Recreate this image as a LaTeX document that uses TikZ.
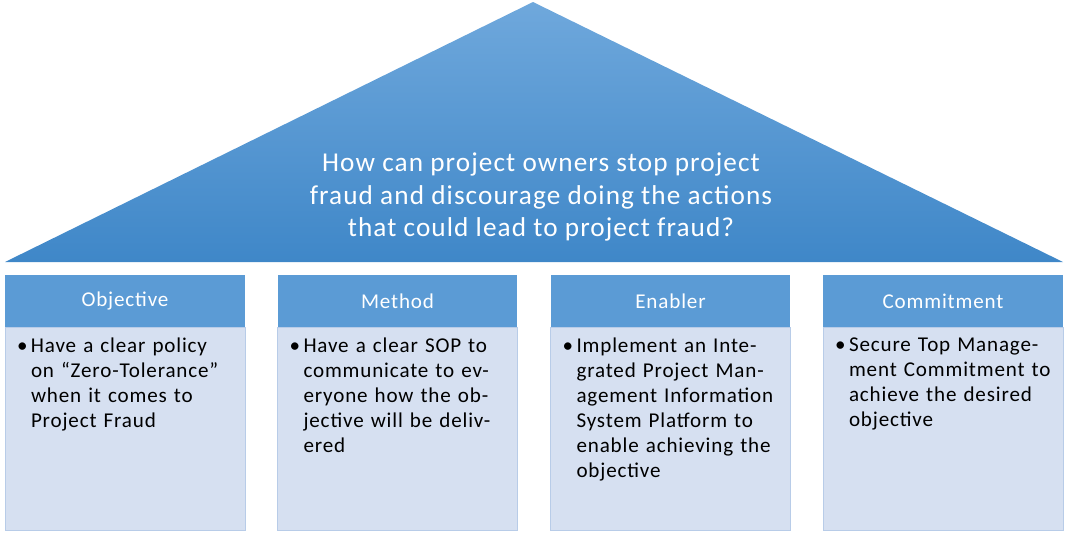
\documentclass[tikz,border=0pt]{standalone}
\usepackage{fontspec}
\setmainfont{Carlito}[LetterSpace=4]
\usetikzlibrary{positioning}
\definecolor{roofTop}{HTML}{6FA8DC}
\definecolor{roofBot}{HTML}{3F87C8}
\definecolor{headBlue}{HTML}{5B9BD5}
\definecolor{bodyBlue}{HTML}{D6E0F1}
\definecolor{edgeBlue}{HTML}{B8CCE8}
\newcommand{\bitem}[1]{\hyphenpenalty=10000\llap{\makebox[0.28cm][l]{\textbullet}}#1}
\tikzset{
  header/.style={fill=headBlue,minimum width=4.8cm,minimum height=1.04cm,inner sep=0pt,
    text=white,font=\fontsize{12}{14}\selectfont},
  body/.style={fill=bodyBlue,draw=edgeBlue,line width=0.4pt,minimum width=4.8cm,minimum height=4.06cm,
    inner sep=0pt,anchor=north},
  bodytext/.style={anchor=north west,text width=4.1cm,align=left,inner sep=0pt,
    font=\fontsize{12}{14.2}\selectfont}
}
\begin{document}
\begin{tikzpicture}[x=0.02cm,y=-0.02cm]
\useasboundingbox (0,0) rectangle (1066,545);
% roof
\shade[top color=roofTop,bottom color=roofBot] (533,2) -- (1063,262) -- (5,262) -- cycle;
\node[align=center,text=white,font=\fontsize{15.5}{18.7}\selectfont] (question) at (541,197)
  {How can project owners stop project\\fraud and discourage doing the actions\\that could lead to project fraud?};
% pillars
\node[header] (hdObj) at (125,301) {Objective};
\node[header] (hdMet) at (397.5,301) {Method};
\node[header] (hdEna) at (670.5,301) {Enabler};
\node[header] (hdCom) at (943,301) {Commitment};
\foreach \h/\b in {hdObj/bdObj,hdMet/bdMet,hdEna/bdEna,hdCom/bdCom}
  \node[body] (\b) at (\h.south) {};
\node[bodytext] (txObj) at ([xshift=0.52cm,yshift=-0.2cm]bdObj.north west)
  {\bitem{Have a clear policy on “Zero-Tolerance” when it comes to Project Fraud}};
\node[bodytext] (txMet) at ([xshift=0.52cm,yshift=-0.2cm]bdMet.north west)
  {\bitem{Have a clear SOP to communicate to everyone how the objective will be delivered}};
\node[bodytext] (txEna) at ([xshift=0.52cm,yshift=-0.2cm]bdEna.north west)
  {\bitem{Implement an Integrated Project Management Information System Platform to enable achieving the objective}};
\node[bodytext] (txCom) at ([xshift=0.52cm,yshift=-0.2cm]bdCom.north west)
  {\bitem{Secure Top Management Commitment to achieve the desired objective}};
\end{tikzpicture}
\end{document}
